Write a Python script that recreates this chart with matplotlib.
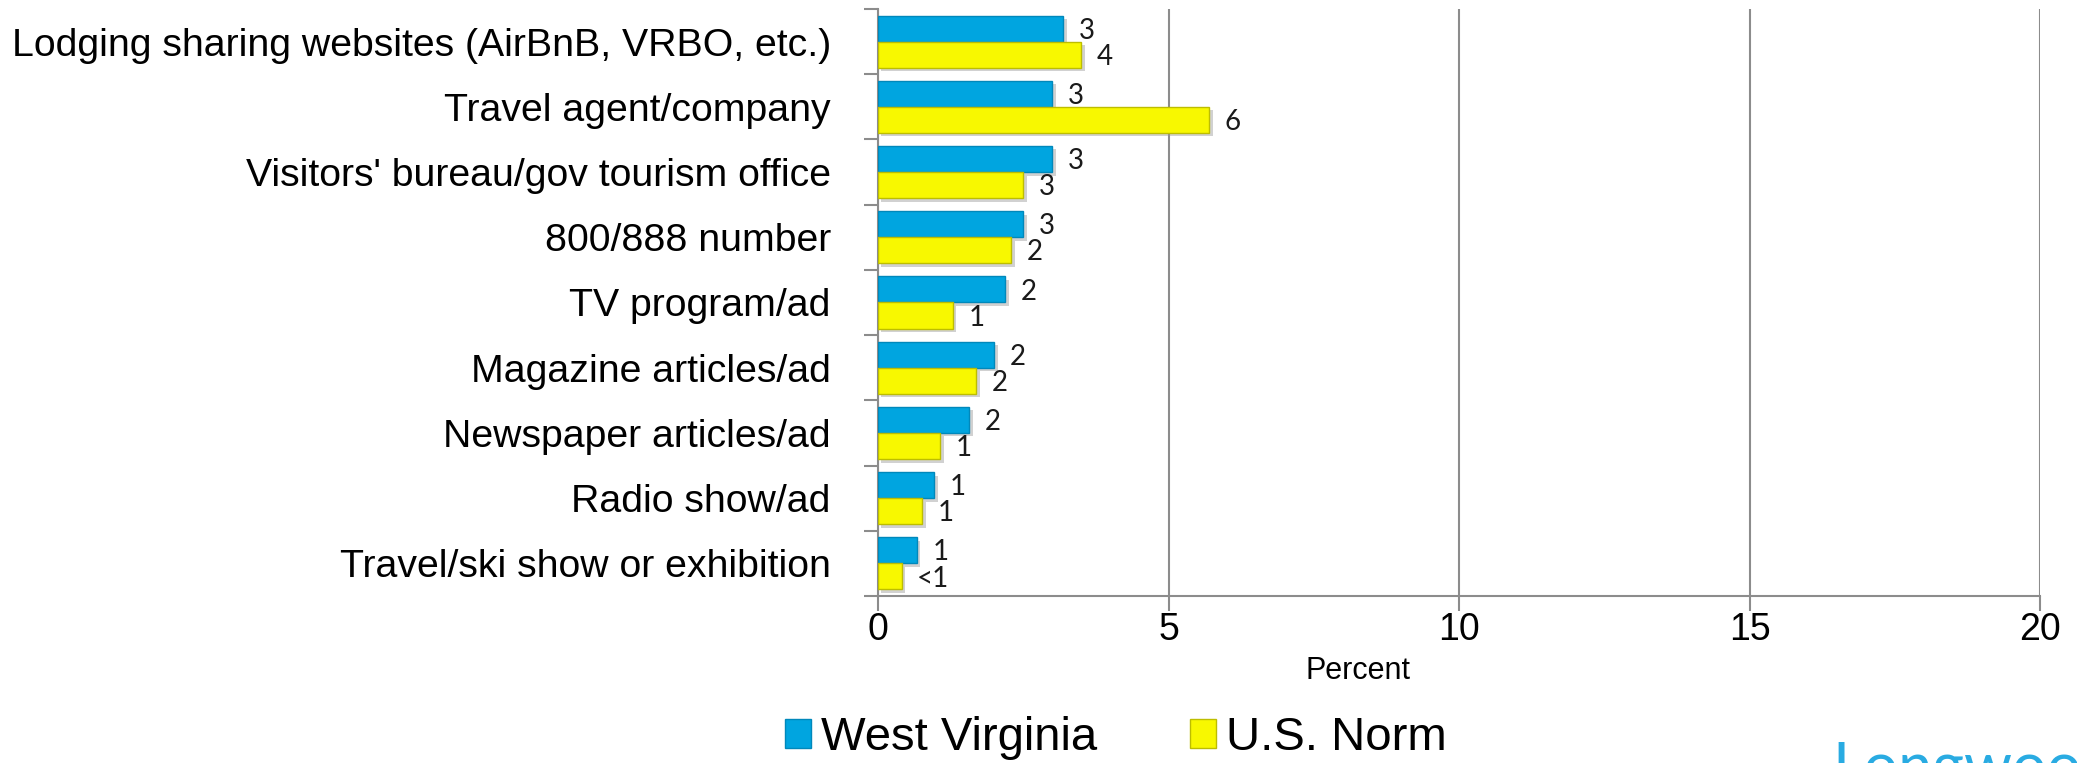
import matplotlib
matplotlib.use("Agg")
import matplotlib.pyplot as plt
import matplotlib.patheffects as pe
from matplotlib import font_manager
from matplotlib.patches import Patch
import numpy as np

categories = ["Lodging sharing websites (AirBnB, VRBO, etc.)",
              "Travel agent/company",
              "Visitors' bureau/gov tourism office",
              "800/888 number",
              "TV program/ad",
              "Magazine articles/ad",
              "Newspaper articles/ad",
              "Radio show/ad",
              "Travel/ski show or exhibition"]

west_virginia = [3.19, 3.0, 3.0, 2.5, 2.19, 2.0, 1.57, 0.97, 0.67]
us_norm = [3.5, 5.7, 2.5, 2.29, 1.29, 1.69, 1.07, 0.76, 0.41]

wv_labels = ["3", "3", "3", "3", "2", "2", "2", "1", "1"]
us_labels = ["4", "6", "3", "2", "1", "2", "1", "1", "<1"]

x_ticks = [0, 5, 10, 15, 20]

BLUE = "#00A5E0"
YELLOW = "#F8F800"
GRAY = "#8C8C8C"

names = {f.name for f in font_manager.fontManager.ttflist}
if "Liberation Sans Narrow" in names:
    cat_font, cat_size = "Liberation Sans Narrow", 34
else:
    cat_font, cat_size = "Liberation Sans", 28.3


def bar_chart():
    fig = plt.figure(figsize=(20.77, 7.63), dpi=100)
    ax = fig.add_axes([878 / 2077, 1 - 596 / 763, (2040 - 878) / 2077, (596 - 9) / 763])

    y = np.arange(len(categories))
    shadow = [pe.SimplePatchShadow(offset=(2.5, -2.5), shadow_rgbFace="#999999", alpha=0.45), pe.Normal()]

    wv_bars = ax.barh(y - 0.2, west_virginia, height=0.4, color=BLUE,
                      edgecolor="#0088BB", linewidth=1.0, zorder=3)
    us_bars = ax.barh(y + 0.2, us_norm, height=0.4, color=YELLOW,
                      edgecolor="#BDBD00", linewidth=1.0, zorder=3)
    for b in list(wv_bars) + list(us_bars):
        b.set_path_effects(shadow)

    for bars, labels in [(wv_bars, wv_labels), (us_bars, us_labels)]:
        for b, lab in zip(bars, labels):
            ax.annotate(lab, (b.get_width(), b.get_y() + b.get_height() / 2),
                        xytext=(11, -1.5), textcoords="offset points",
                        ha="left", va="center", fontsize=20, family="Lato",
                        color="#1a1a1a", zorder=4)

    ax.set_xlim(0, 20)
    ax.set_ylim(len(categories) - 0.5, -0.5)
    ax.set_xticks(x_ticks)
    ax.set_xticklabels([str(t) for t in x_ticks], fontsize=27, family="Liberation Sans")
    ax.set_yticks(y)
    ax.set_yticklabels(categories, fontsize=cat_size, family=cat_font)
    ax.set_yticks(np.arange(-0.5, len(categories)), minor=True)

    ax.tick_params(axis="y", which="major", length=0, pad=34)
    ax.tick_params(axis="y", which="minor", length=10, width=1.5, color=GRAY)
    ax.tick_params(axis="x", length=10.5, width=1.5, color=GRAY, pad=1)

    ax.grid(axis="x", color=GRAY, linewidth=1.5, zorder=0)
    ax.set_axisbelow(True)
    for side in ["top", "right"]:
        ax.spines[side].set_visible(False)
    for side in ["left", "bottom"]:
        ax.spines[side].set_color(GRAY)
        ax.spines[side].set_linewidth(1.5)

    fig.text(1358 / 2077, 1 - 671 / 763, "Percent", ha="center", va="center",
             fontsize=22, family="Liberation Sans")

    handles = [Patch(facecolor=BLUE, edgecolor="#0088BB", label="West Virginia"),
               Patch(facecolor=YELLOW, edgecolor="#BDBD00", label="U.S. Norm")]
    fig.legend(handles=handles, loc="center left", bbox_to_anchor=(761 / 2077, 1 - 738 / 763),
               ncol=2, frameon=False, borderpad=0, handlelength=0.56, handleheight=0.58,
               handletextpad=0.22, columnspacing=1.95,
               prop={"family": "Liberation Sans", "size": 34})

    fig.text(1832 / 2077, 1 - 741 / 763, "Longwoods", ha="left", va="top",
             fontsize=44, family="Lato", color="#29ABE2")

    fig.savefig("out.png", dpi=100)


if __name__ == "__main__":
    bar_chart()
